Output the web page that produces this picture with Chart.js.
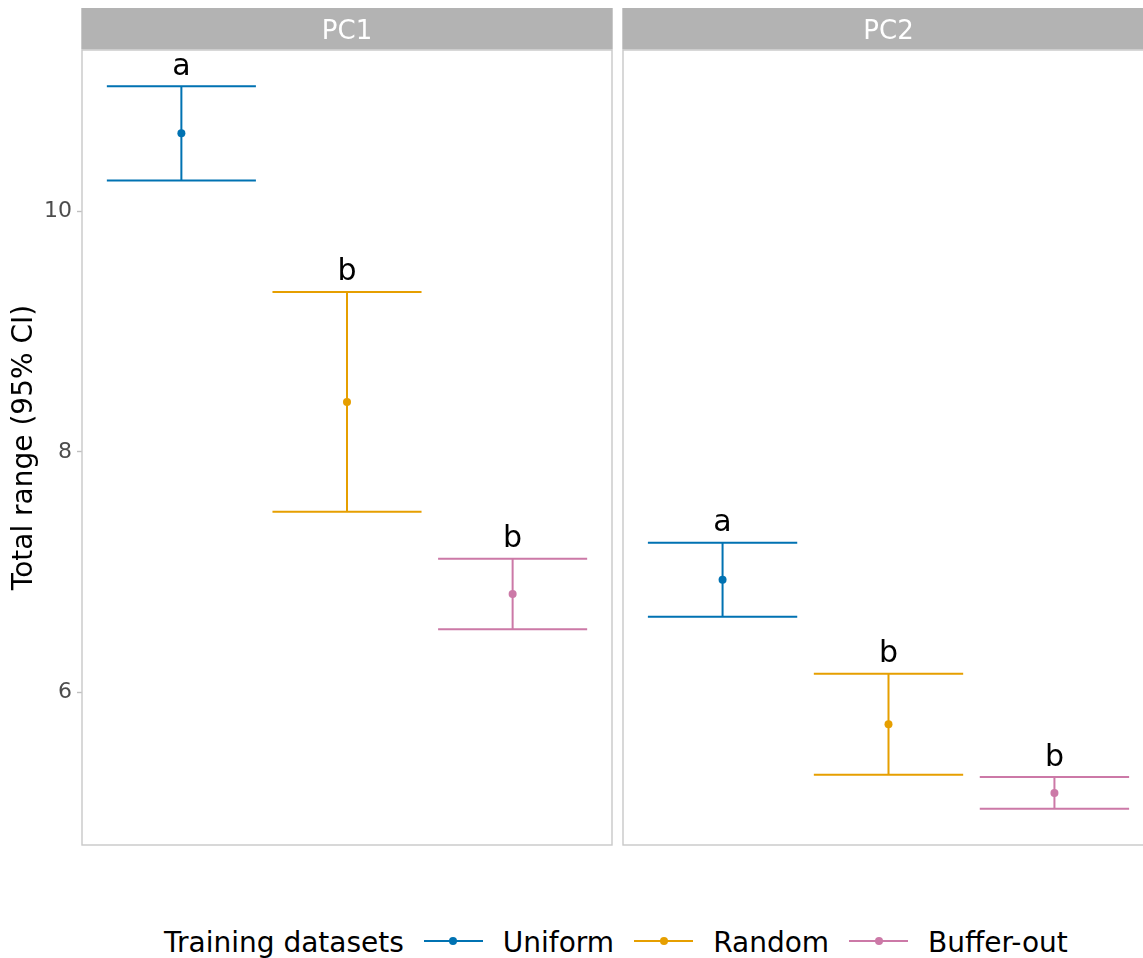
<!DOCTYPE html>
<html>
<head>
<meta charset="utf-8">
<script src="https://cdn.jsdelivr.net/npm/chart.js@4.4.1/dist/chart.umd.min.js"></script>
<style>
  html, body { margin: 0; padding: 0; background: #fff; }
  body { width: 1143px; height: 958px; position: relative; overflow: hidden; font-family: "DejaVu Sans", sans-serif; }
  canvas { position: absolute; top: 0; }
  #legend { position: absolute; left: 164px; top: 923px; height: 40px; display: flex; align-items: center; font-size: 28px; line-height: 40px; color: #000; white-space: nowrap; }
  .key { position: relative; width: 59px; height: 40px; margin-right: 20px; }
  .key .ln { position: absolute; left: 0; right: 0; top: 17px; height: 2px; }
  .key .dt { position: absolute; left: 25.5px; top: 14px; width: 8px; height: 8px; border-radius: 50%; }
  .lbl { margin-right: 20px; }
</style>
</head>
<body>
<canvas id="pc1" width="613" height="870" style="left:0"></canvas>
<canvas id="pc2" width="551" height="870" style="left:613px"></canvas>
<div id="legend"></div>
<script>
// Training datasets and their colours
const groups = ['Uniform', 'Random', 'Buffer-out'];
const groupColors = ['#0072B2', '#E69F00', '#CC79A7'];

// Facet names
const panels = ['PC1', 'PC2'];

// Means and 95% CI bounds of the total range
const pc1Mean  = [10.645, 8.415, 6.820];
const pc1Lower = [10.253, 7.502, 6.528];
const pc1Upper = [11.037, 9.328, 7.112];

const pc2Mean  = [6.938, 5.739, 5.168];
const pc2Lower = [6.631, 5.320, 5.036];
const pc2Upper = [7.245, 6.158, 5.300];

// Significance letters above each interval
const pc1Letters = ['a', 'b', 'b'];
const pc2Letters = ['a', 'b', 'b'];

// Y axis tick labels
const yTicks = [6, 8, 10];

const FONT = '"DejaVu Sans", sans-serif';

// Shared y range: data extent plus 5% on each side
const allLo = Math.min(...pc1Lower, ...pc2Lower);
const allHi = Math.max(...pc1Upper, ...pc2Upper);
const pad = (allHi - allLo) * 0.05;
const yMin = allLo - pad, yMax = allHi + pad;

// Error bars, facet strip, panel border and letters
const facetPlugin = {
  id: 'facet',
  beforeDatasetsDraw(chart) {
    const f = chart.options.plugins.facet;
    const ctx = chart.ctx, xs = chart.scales.x, ys = chart.scales.y;
    ctx.save();
    ctx.lineWidth = 2;
    f.lower.forEach((lo, i) => {
      const hi = f.upper[i];
      const cx = xs.getPixelForValue(i + 1);
      const x0 = xs.getPixelForValue(i + 1 - 0.45), x1 = xs.getPixelForValue(i + 1 + 0.45);
      const yl = ys.getPixelForValue(lo), yu = ys.getPixelForValue(hi);
      ctx.strokeStyle = groupColors[i];
      ctx.beginPath();
      ctx.moveTo(cx, yu); ctx.lineTo(cx, yl);
      ctx.moveTo(x0, yu); ctx.lineTo(x1, yu);
      ctx.moveTo(x0, yl); ctx.lineTo(x1, yl);
      ctx.stroke();
    });
    ctx.restore();
  },
  afterDraw(chart) {
    const f = chart.options.plugins.facet;
    const ctx = chart.ctx, xs = chart.scales.x, ys = chart.scales.y;
    const a = chart.chartArea;
    ctx.save();
    // letters
    ctx.fillStyle = '#000';
    ctx.font = '30px ' + FONT;
    ctx.textAlign = 'center';
    ctx.textBaseline = 'alphabetic';
    f.letters.forEach((t, i) => {
      ctx.fillText(t, xs.getPixelForValue(i + 1), ys.getPixelForValue(f.upper[i]) - 11.5);
    });
    // panel border
    ctx.strokeStyle = '#c8c8c8';
    ctx.lineWidth = 1.4;
    ctx.strokeRect(a.left, a.top, a.right - a.left, a.bottom - a.top);
    // strip
    ctx.fillStyle = '#b3b3b3';
    ctx.fillRect(a.left - 0.7, 8, a.right - a.left + 1.4, a.top - 8 - 0.7);
    ctx.fillStyle = '#ffffff';
    ctx.font = '26px ' + FONT;
    ctx.fillText(f.title, (a.left + a.right) / 2, 38.5);
    ctx.restore();
  }
};

function makeChart(id, title, mean, lower, upper, letters, showY, padLeft) {
  return new Chart(document.getElementById(id), {
    type: 'scatter',
    data: {
      datasets: groups.map((g, i) => ({
        label: g,
        data: [{ x: i + 1, y: mean[i] }],
        backgroundColor: groupColors[i],
        borderColor: groupColors[i],
        pointRadius: 4,
        pointBorderWidth: 0,
        pointHoverRadius: 4
      }))
    },
    options: {
      responsive: false,
      animation: false,
      events: [],
      layout: { autoPadding: false, padding: { top: 50, bottom: 25, left: padLeft, right: showY ? 1 : 10 } },
      plugins: {
        legend: { display: false },
        tooltip: { enabled: false },
        facet: { title, lower, upper, letters }
      },
      scales: {
        x: { type: 'linear', min: 0.4, max: 3.6, display: false },
        y: {
          type: 'linear', min: yMin, max: yMax, display: showY,
          afterBuildTicks(s) { s.ticks = yTicks.map(v => ({ value: v })); },
          afterFit(s) { if (showY) s.width = 82; },
          ticks: { color: '#4d4d4d', font: { family: FONT, size: 22 }, padding: 5 },
          grid: { drawOnChartArea: false, drawTicks: true, tickLength: 5, tickColor: '#c0c0c0', tickWidth: 1.4, color: '#c0c0c0' },
          border: { display: false },
          title: { display: showY, text: 'Total range (95% CI)', color: '#000', font: { family: FONT, size: 28 }, padding: { top: 8, bottom: 0 } }
        }
      }
    },
    plugins: [facetPlugin]
  });
}

makeChart('pc1', panels[0], pc1Mean, pc1Lower, pc1Upper, pc1Letters, true, 0);
makeChart('pc2', panels[1], pc2Mean, pc2Lower, pc2Upper, pc2Letters, false, 10);

// Legend
const legend = document.getElementById('legend');
const head = document.createElement('span');
head.className = 'lbl';
head.textContent = 'Training datasets';
legend.appendChild(head);
groups.forEach((g, i) => {
  const k = document.createElement('span');
  k.className = 'key';
  k.innerHTML = '<span class="ln" style="background:' + groupColors[i] + '"></span><span class="dt" style="background:' + groupColors[i] + '"></span>';
  legend.appendChild(k);
  const l = document.createElement('span');
  l.className = 'lbl';
  l.textContent = g;
  legend.appendChild(l);
});
</script>
</body>
</html>
